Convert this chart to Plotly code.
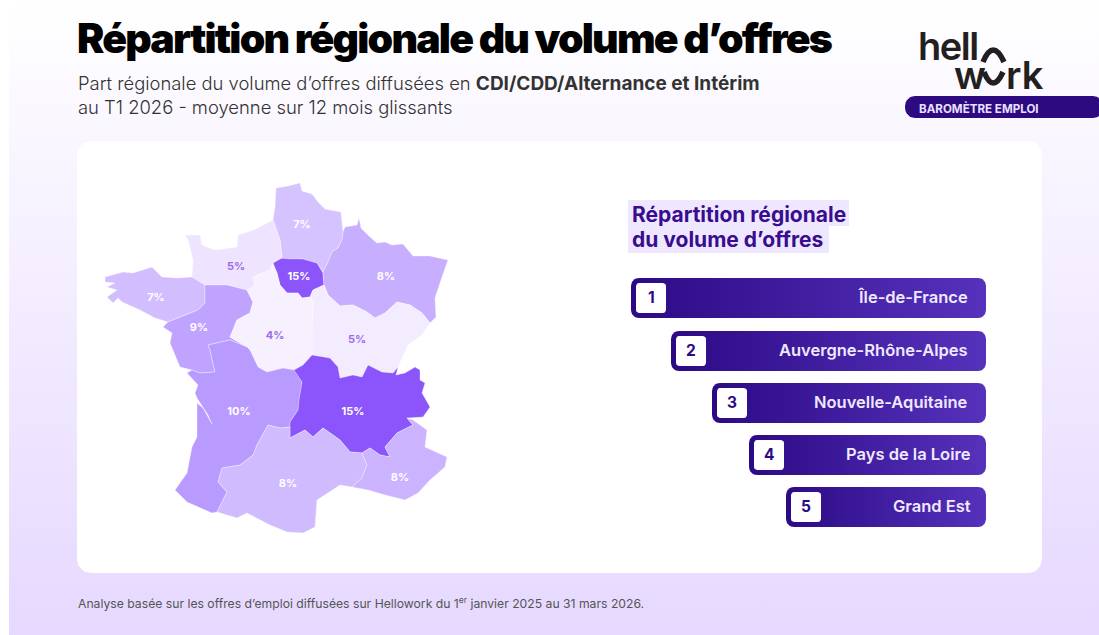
import math
import plotly.graph_objects as go

W, H = 1099, 635
FONT = "Inter"

# ---------- data ----------
region_names = ["Hauts-de-France", "Île-de-France", "Grand Est", "Normandie", "Bretagne",
                "Pays de la Loire", "Centre-Val de Loire", "Bourgogne-Franche-Comté",
                "Nouvelle-Aquitaine", "Auvergne-Rhône-Alpes", "Occitanie",
                "Provence-Alpes-Côte d'Azur"]
region_shares = [7, 15, 8, 5, 7, 9, 4, 5, 10, 15, 8, 8]
region_colors = ["#D5C3FF", "#8B55FB", "#C8AEFF", "#EEE4FF", "#D2BDFF", "#BFA3FF",
                 "#F6F0FF", "#F3ECFF", "#B99AFF", "#8B55FB", "#D0BBFF", "#CBB3FF"]
label_colors = ["#FFFFFF", "#FFFFFF", "#FFFFFF", "#9C6BEE", "#FFFFFF", "#FFFFFF",
                "#9C6BEE", "#9C6BEE", "#FFFFFF", "#FFFFFF", "#FFFFFF", "#FFFFFF"]
label_x = [302, 299, 386, 236, 156, 199, 275, 357, 239, 353, 288, 400]
label_y = [225, 277, 277, 267, 298, 328, 336, 340, 412, 412, 484, 478]

# region outlines
region_outlines = [
    [(276,188),(288,186),(300,183),(302,191),(312,194),(318,202),(325,209),(341,212),(343,232),(342,240),(338,248),(332,252),(328,262),(323,272),(317,263),(303,259),(290,260),(282,258),(280,240),(273,220),(275,207)],
    [(273,263),(280,258),(290,259),(303,259),(317,263),(323,273),(324,285),(313,290),(310,297),(302,298),(298,293),(287,293),(280,285),(277,273)],
    [(345,227),(353,226),(357,225),(359,218),(361,228),(370,237),(377,243),(385,242),(392,245),(403,244),(413,256),(430,256),(448,260),(442,277),(435,298),(436,317),(430,323),(422,313),(410,305),(397,302),(385,313),(375,318),(367,312),(353,305),(340,306),(328,295),(324,285),(323,272),(328,262),(332,252),(338,248),(342,240),(343,232)],
    [(185,235),(200,235),(202,245),(215,250),(237,247),(238,235),(256,229),(273,220),(280,240),(282,258),(273,263),(270,270),(253,277),(255,285),(247,290),(227,285),(205,285),(192,277),(193,260),(188,240)],
    [(105,277),(123,272),(133,273),(152,267),(162,277),(178,278),(192,277),(205,285),(205,303),(198,310),(185,315),(168,322),(155,318),(140,310),(122,302),(118,298),(113,303),(107,297),(117,290),(107,287),(115,283),(105,282)],
    [(205,285),(227,285),(247,290),(253,302),(250,313),(237,320),(230,337),(247,347),(230,340),(208,345),(210,350),(215,372),(200,373),(192,370),(180,367),(177,360),(170,343),(172,333),(163,327),(168,322),(185,315),(198,310),(205,303)],
    [(253,277),(270,270),(273,265),(277,273),(280,285),(287,293),(298,293),(302,298),(310,297),(313,303),(312,330),(312,355),(303,365),(294,370),(283,368),(267,372),(258,367),(250,350),(247,347),(230,337),(237,320),(250,313),(253,302),(247,290),(255,285)],
    [(310,297),(313,290),(324,285),(328,295),(340,306),(353,305),(367,312),(375,318),(385,313),(397,302),(410,305),(422,313),(430,323),(422,335),(408,345),(402,358),(398,367),(393,373),(382,372),(368,365),(362,377),(353,375),(340,378),(338,367),(330,358),(312,355),(312,330),(313,303)],
    [(208,345),(230,340),(247,347),(250,350),(258,367),(267,372),(283,368),(295,370),(302,382),(299,400),(298,410),(290,422),(290,427),(280,428),(268,425),(257,445),(253,455),(240,465),(222,468),(218,482),(227,492),(217,512),(212,513),(187,502),(175,490),(187,473),(192,447),(197,437),(197,403),(203,408),(212,424),(208,415),(197,398),(195,393),(198,385),(187,373),(192,370),(200,373),(215,372),(210,350)],
    [(294,370),(303,365),(312,355),(330,358),(338,367),(340,378),(353,375),(362,377),(368,365),(382,372),(393,373),(398,367),(396,375),(405,373),(415,367),(420,370),(420,380),(425,383),(422,393),(430,407),(423,417),(407,418),(413,425),(397,433),(385,447),(390,457),(380,455),(370,448),(362,453),(350,452),(340,440),(323,428),(313,437),(305,430),(290,438),(290,422),(298,410),(299,400),(302,382)],
    [(217,512),(227,492),(218,482),(222,468),(240,465),(253,455),(257,445),(268,425),(280,428),(290,427),(290,438),(305,430),(313,437),(323,428),(340,440),(350,452),(362,453),(367,465),(362,478),(352,487),(340,485),(327,493),(317,500),(315,527),(303,533),(287,532),(270,525),(247,513),(237,518)],
    [(407,418),(413,425),(397,433),(385,447),(390,457),(380,455),(370,448),(362,453),(367,465),(362,478),(352,487),(368,490),(385,495),(405,500),(418,493),(430,480),(445,467),(447,457),(425,447),(427,430),(413,420)],
]

rank_names = ["Île-de-France", "Auvergne-Rhône-Alpes", "Nouvelle-Aquitaine", "Pays de la Loire", "Grand Est"]
rank_numbers = [1, 2, 3, 4, 5]
rank_bar_lengths = [355, 315, 274, 237, 200]

TITLE = "Répartition régionale du volume d’offres"
SUB1 = "Part régionale du volume d’offres diffusées en <b style=\"font-size:19px\">CDI/CDD/Alternance et Intérim</b>"
SUB2 = "au T1 2026 - moyenne sur 12 mois glissants"
FOOT = "Analyse basée sur les offres d’emploi diffusées sur Hellowork du 1<sup>er</sup> janvier 2025 au 31 mars 2026."
PANEL = ["Répartition régionale", "du volume d’offres"]


def rounded(x0, y0, x1, y1, r, right=True):
    """Closed outline of a rounded rectangle."""
    xs, ys = [], []
    rr = r if right else 0
    corners = [(x0 + r, y0 + r, 180, r), (x1 - rr, y0 + rr, 270, rr),
               (x1 - rr, y1 - rr, 0, rr), (x0 + r, y1 - r, 90, r)]
    for cx, cy, a0, rad in corners:
        for k in range(9):
            a = math.radians(a0 + k * 90 / 8)
            xs.append(cx + rad * math.cos(a))
            ys.append(cy + rad * math.sin(a))
    xs.append(xs[0]); ys.append(ys[0])
    return xs, ys


def panel(xs, ys, **kw):
    return go.Scatter(x=xs, y=ys, mode="lines", fill="toself", hoverinfo="skip",
                      showlegend=False, line=dict(width=0), **kw)


fig = go.Figure()

# page background
fig.add_trace(panel([9, W, W, 9, 9], [0, 0, H, H, 0],
                    fillgradient=dict(type="vertical",
                                      colorscale=[[0, "#E6D8FF"], [1, "#FFFFFF"]])))
# card
xs, ys = rounded(77, 141, 1042, 573, 14)
fig.add_trace(panel(xs, ys, fillcolor="#FFFFFF"))

# map
for name, share, color, outline in zip(region_names, region_shares, region_colors, region_outlines):
    xs = [p[0] for p in outline] + [outline[0][0]]
    ys = [p[1] for p in outline] + [outline[0][1]]
    fig.add_trace(go.Scatter(x=xs, y=ys, mode="lines", fill="toself", fillcolor=color,
                             line=dict(color="rgba(255,255,255,0.55)", width=0.6),
                             name=name, showlegend=False, hoveron="fills",
                             text=f"{name} : {share}%", hoverinfo="text"))
fig.add_trace(go.Scatter(x=label_x, y=label_y, mode="text",
                         text=[f"{s}%" for s in region_shares],
                         textposition="middle center", showlegend=False, hoverinfo="skip",
                         textfont=dict(family=FONT, size=11, weight=700, color=label_colors)))

# panel heading highlight
xs, ys = rounded(628, 200, 849, 226, 0.01)
fig.add_trace(panel(xs, ys, fillcolor="#EFE7FF"))
xs, ys = rounded(628, 226, 829, 253, 0.01)
fig.add_trace(panel(xs, ys, fillcolor="#EFE7FF"))

# ranking bars
BAR_RIGHT = 986
bar_tops = [278, 331, 383, 435, 487]
label_right = [969, 969, 969, 972, 972]
for top, length in zip(bar_tops, rank_bar_lengths):
    left = BAR_RIGHT - length
    xs, ys = rounded(left, top, BAR_RIGHT, top + 40, 8)
    fig.add_trace(panel(xs, ys, fillgradient=dict(type="horizontal",
                        colorscale=[[0, "#2D0A85"], [1, "#5632BC"]])))
    xs, ys = rounded(left + 5, top + 5, left + 35, top + 35, 3)
    fig.add_trace(panel(xs, ys, fillcolor="#FFFFFF"))

# barometer ribbon
xs, ys = rounded(905, 96, W + 4, 118, 10)
fig.add_trace(panel(xs, ys, fillcolor="#2E0A80"))

# text
ann = []


def text(x, y, s, size, color, weight=400, anchor="left"):
    ann.append(dict(x=x, y=y, xref="x", yref="y", text=s, showarrow=False, xanchor=anchor,
                    yanchor="middle", borderpad=0,
                    font=dict(family=FONT, size=size, color=color, weight=weight)))


text(453.5, 38, TITLE, 41, "#000000", 900, "center")
text(77, 83, SUB1, 18.4, "#333333", 300)
text(77, 107, SUB2, 18.4, "#333333", 300)
text(77, 603, FOOT, 12.2, "#555555")
text(631, 214, PANEL[0], 21, "#380D8E", 700)
text(631, 239, PANEL[1], 21, "#380D8E", 700)
for top, length, n, name, right in zip(bar_tops, rank_bar_lengths, rank_numbers, rank_names, label_right):
    left = BAR_RIGHT - length
    text(left + 20, top + 19, str(n), 15.5, "#2D0A85", 700, "center")
    text(right, top + 19, name, 16.5, "#EFE9FF", 600, "right")

# logo
text(948, 46, "hell", 38, "#231F20", 600, "center")
text(953, 75, "w", 38, "#231F20", 600)
text(1005, 75, "rk", 38, "#231F20", 600)
text(918, 108, "BAROMÈTRE EMPLOI", 11.6, "#E9E0FF", 700)

logo_arcs = [
    dict(type="path", path="M 983 62 Q 993 38 1004 62", line=dict(color="#231F20", width=5.5)),
    dict(type="path", path="M 984 72 Q 993 94 1003 72", line=dict(color="#231F20", width=5.5)),
]

fig.update_layout(
    width=W, height=H, margin=dict(l=0, r=0, t=0, b=0),
    paper_bgcolor="#FFFFFF", plot_bgcolor="rgba(0,0,0,0)",
    xaxis=dict(range=[0, W], visible=False, fixedrange=True),
    yaxis=dict(range=[H, 0], visible=False, fixedrange=True),
    annotations=ann, shapes=logo_arcs, hovermode="closest",
)

# the display title and the logo word are set tight, which layout fonts cannot express
post = """
document.body.style.margin='0';
document.querySelectorAll('.annotation-text').forEach(function(t){
  if(t.textContent==='R\\u00e9partition r\\u00e9gionale du volume d\\u2019offres'){
    t.style.letterSpacing='-1.8px';
  }
  if(t.textContent==='hell'){
    t.style.letterSpacing='-1.5px';
  }
});
"""
fig.write_html("out.html", config={"displayModeBar": False}, post_script=post)
